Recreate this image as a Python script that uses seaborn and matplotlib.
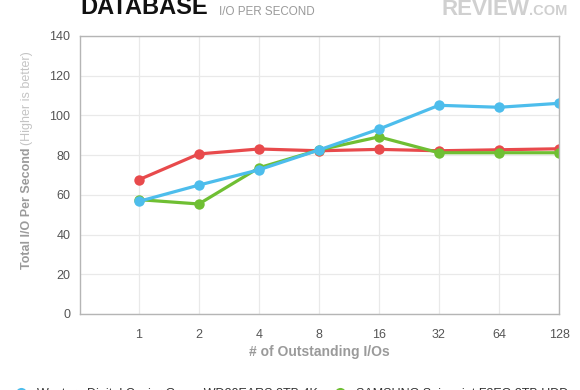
"""Database I/O per second chart, three 2TB drives."""

import matplotlib.pyplot as plt
from matplotlib.lines import Line2D
import pandas as pd
import seaborn as sns

OUTSTANDING_IOS = ["1", "2", "4", "8", "16", "32", "64", "128"]
WD_4K_IOPS = [56.7, 64.9, 72.6, 82.6, 93.1, 105.1, 104.1, 106.1]
SAMSUNG_IOPS = [57.6, 55.4, 73.6, 82.6, 89.2, 81.2, 81.2, 81.2]
WD_512_IOPS = [67.6, 80.6, 83.1, 82.2, 82.9, 82.2, 82.7, 83.2]

WD_4K_LABEL = "Western Digital Caviar Green WD20EARS 2TB 4K"
SAMSUNG_LABEL = "SAMSUNG Spinpoint F3EG 2TB HDD"
WD_512_LABEL = "Western Digital Caviar Green WD20EARS 2TB"

BLUE = "#4dbdec"
GREEN = "#6fbf33"
RED = "#e84a4c"

sns.set_theme(style="white")
plt.rcParams["font.family"] = ["Liberation Sans", "DejaVu Sans"]

df = pd.DataFrame({
    "pos": list(range(len(OUTSTANDING_IOS))) * 3,
    "iops": WD_512_IOPS + SAMSUNG_IOPS + WD_4K_IOPS,
    "drive": [WD_512_LABEL] * 8 + [SAMSUNG_LABEL] * 8 + [WD_4K_LABEL] * 8,
})
palette = {WD_512_LABEL: RED, SAMSUNG_LABEL: GREEN, WD_4K_LABEL: BLUE}

fig = plt.figure(figsize=(5.8, 3.9), dpi=100)
ax = fig.add_axes([0.1379, 0.1949, 0.8259, 0.7128])

# draw red first, blue last so blue sits on top like the original
for label in [WD_512_LABEL, SAMSUNG_LABEL, WD_4K_LABEL]:
    sns.lineplot(
        data=df[df["drive"] == label],
        x="pos",
        y="iops",
        color=palette[label],
        linewidth=2.3,
        marker="o",
        markersize=7.5,
        markeredgewidth=0,
        ax=ax,
        legend=False,
    )

ax.set_xlim(-0.98, 7)
ax.set_ylim(0, 140)
ax.set_xticks(range(len(OUTSTANDING_IOS)))
ax.set_xticklabels(OUTSTANDING_IOS)
ax.set_yticks(range(0, 141, 20))
ax.grid(True, color="#e9e9e9", linewidth=0.9)
ax.set_axisbelow(True)
for spine in ax.spines.values():
    spine.set_color("#b5b5b5")
    spine.set_linewidth(1.0)
ax.tick_params(axis="both", length=0, labelsize=9, labelcolor="#555555")
ax.tick_params(axis="x", pad=11)
ax.tick_params(axis="y", pad=7)
ax.set_xlabel("# of Outstanding I/Os", fontsize=10, fontweight="bold",
              color="#9a9a9a", labelpad=3)
ax.set_ylabel("")

fig.text(0.0466, 0.467, "Total I/O Per Second", rotation=90, ha="center",
         va="center", fontsize=9, fontweight="bold", color="#9a9a9a")
fig.text(0.0466, 0.7474, "(Higher is better)", rotation=90, ha="center",
         va="center", fontsize=9, color="#c4c4c4")

fig.text(0.138, 0.964, "DATABASE", fontsize=17, fontweight="heavy",
         color="#111111", va="baseline")
fig.text(0.3776, 0.962, "I/O PER SECOND", fontsize=8.4, color="#9a9a9a",
         va="baseline")
fig.text(0.762, 0.9615, "REVIEW", fontsize=16, fontweight="bold",
         color="#d0d0d0", va="baseline")
fig.text(0.912, 0.9615, ".COM", fontsize=10.5, fontweight="bold",
         color="#d0d0d0", va="baseline")

handles = [
    Line2D([], [], linestyle="none", marker="o", markersize=8, color=c,
           markeredgewidth=0)
    for c in (BLUE, RED, GREEN)
]
fig.legend(
    handles,
    [WD_4K_LABEL, WD_512_LABEL, SAMSUNG_LABEL],
    ncol=2,
    loc="upper left",
    bbox_to_anchor=(0.006, 0.034),
    frameon=False,
    fontsize=9,
    handlelength=1.0,
    handletextpad=0.78,
    columnspacing=1.26,
    labelcolor="#333333",
)

fig.savefig("out.png", dpi=100)
